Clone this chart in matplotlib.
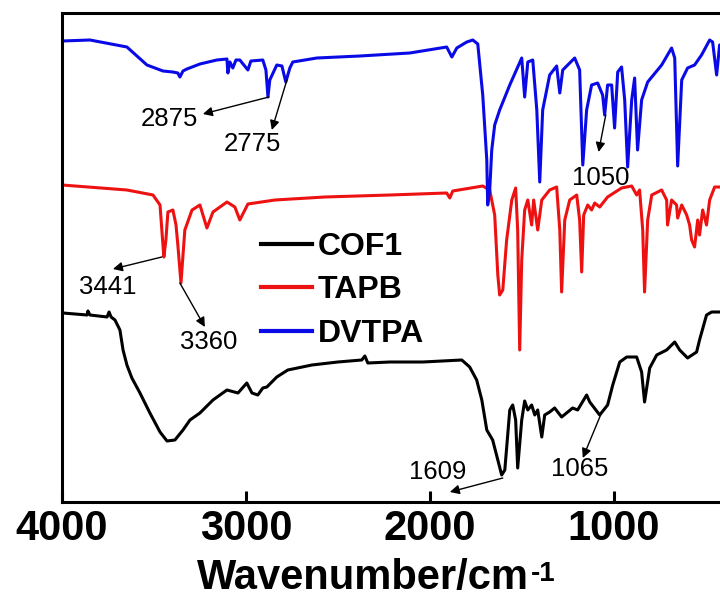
import numpy as np
import matplotlib
matplotlib.use("Agg")
import matplotlib.pyplot as plt

plt.rcParams['font.family'] = ['Liberation Sans', 'DejaVu Sans']

# FTIR spectra, wavenumber (cm-1) vs offset transmittance (a.u.)
dvtpa_w = [4000, 3848, 3647, 3538, 3451, 3397, 3370, 3359, 3342, 3321, 3250, 3158, 3103, 3098,
           3087, 3071, 3054, 3033, 2989, 2973, 2908, 2891, 2880, 2870, 2832, 2804, 2783, 2761,
           2745, 2614, 2380, 2109, 1908, 1880, 1853, 1799, 1766, 1739, 1712, 1690, 1685, 1674,
           1663, 1647, 1620, 1565, 1500, 1484, 1467, 1440, 1418, 1402, 1386, 1348, 1310, 1293,
           1277, 1212, 1185, 1168, 1147, 1120, 1087, 1060, 1049, 1033, 1011, 995, 978, 957,
           940, 924, 902, 886, 870, 848, 815, 739, 685, 668, 652, 630, 598, 560, 522, 478,
           462, 440, 424, 400]
dvtpa_t = [461, 462, 455, 437, 431, 430, 429, 425, 431, 433, 438, 442, 443, 429,
           440, 434, 442, 442, 432, 441, 442, 432, 405, 422, 437, 436, 420, 434,
           440, 444, 446, 449, 455, 445, 454, 460, 462, 458, 407, 342, 297, 312,
           352, 377, 392, 417, 444, 405, 440, 442, 392, 320, 392, 427, 436, 409,
           432, 444, 432, 337, 392, 417, 419, 407, 387, 417, 417, 374, 430, 435,
           402, 335, 402, 424, 352, 402, 420, 437, 454, 444, 336, 422, 434, 437, 447, 462,
           460, 427, 457, 457]

tapb_w = [4000, 3647, 3505, 3467, 3451, 3446, 3435, 3424, 3397, 3380, 3370, 3353, 3342, 3332,
          3293, 3250, 3212, 3179, 3103, 3060, 3033, 2989, 2842, 2571, 2217, 1908, 1891, 1875,
          1712, 1674, 1647, 1630, 1620, 1603, 1582, 1554, 1533, 1522, 1511, 1500, 1484, 1467,
          1446, 1435, 1413, 1391, 1348, 1310, 1293, 1283, 1266, 1239, 1201, 1185, 1174, 1163,
          1141, 1120, 1103, 1076, 1033, 957, 902, 875, 859, 842, 832, 815, 793, 739, 712, 707,
          685, 658, 652, 630, 603, 587, 576, 560, 543, 533, 516, 495, 478, 451, 424, 400]
tapb_t = [317, 312, 307, 297, 257, 245, 262, 290, 292, 277, 257, 219, 247, 272,
          292, 297, 274, 290, 300, 295, 282, 298, 302, 305, 307, 309, 304, 311,
          316, 312, 287, 227, 207, 212, 262, 302, 314, 272, 152, 242, 292, 302,
          277, 302, 272, 302, 312, 315, 272, 210, 282, 302, 307, 282, 230, 287,
          297, 292, 299, 295, 305, 314, 316, 307, 312, 272, 210, 282, 307, 312, 302, 277,
          302, 297, 284, 297, 287, 277, 262, 255, 282, 267, 292, 277, 302, 315, 315, 315]

cof1_w = [4000, 3995, 3864, 3859, 3848, 3755, 3744, 3733, 3712, 3685, 3668, 3647, 3620, 3576,
          3522, 3467, 3429, 3386, 3342, 3304, 3250, 3179, 3103, 3043, 2995, 2967, 2935, 2908,
          2886, 2832, 2772, 2641, 2500, 2370, 2353, 2337, 2217, 2038, 1826, 1783, 1745, 1717,
          1690, 1658, 1630, 1609, 1592, 1565, 1549, 1533, 1522, 1500, 1484, 1467, 1446, 1429,
          1413, 1391, 1375, 1348, 1321, 1283, 1223, 1196, 1147, 1130, 1076, 1033, 1005, 967,
          929, 875, 848, 832, 804, 766, 712, 668, 641, 598, 549, 533, 495, 467, 424, 400]
cof1_t = [189, 189, 187, 191, 187, 185, 190, 185, 182, 172, 152, 137, 124, 109,
          89, 70, 61, 62, 72, 82, 89, 102, 112, 109, 119, 109, 107, 114,
          115, 125, 132, 137, 140, 142, 146, 139, 140, 140, 142, 135, 122, 102,
          72, 62, 42, 27, 32, 92, 97, 82, 34, 82, 101, 92, 97, 87,
          92, 65, 87, 90, 94, 85, 94, 92, 107, 100, 87, 97, 117, 140,
          145, 145, 130, 100, 134, 147, 152, 160, 152, 144, 150, 162, 187, 190, 190, 190]

# peak label, arrow tail (on peak), arrow head, text centre
peak_notes = [
    ('2875', (2875, 405), (3234, 388), (3418, 383)),
    ('2775', (2777, 422), (2859, 372), (2967, 358)),
    ('3441', (3457, 245), (3723, 233), (3750, 215)),
    ('3360', (3359, 219), (3223, 175), (3201, 160)),
    ('1050', (1043, 387), (1082, 350), (1071, 324)),
    ('1609', (1603, 24), (1891, 10), (1957, 30)),
    ('1065', (1071, 87), (1168, 44), (1185, 33)),
]

fig = plt.figure(figsize=(7.2, 5.98), dpi=100)
ax = fig.add_axes([62/720, 96/598, 662/720, 489/598])

ax.plot(cof1_w, cof1_t, color='black', lw=2.2, label='COF1')
ax.plot(tapb_w, tapb_t, color='#ee1111', lw=2.2, label='TAPB')
ax.plot(dvtpa_w, dvtpa_t, color='#0a0ae6', lw=2.2, label='DVTPA')

for lab, tail, head, txt in peak_notes:
    ax.annotate('', xy=head, xytext=tail,
                arrowprops=dict(arrowstyle='-|>', color='black', lw=1, mutation_scale=14,
                                shrinkA=0, shrinkB=0))
    ax.text(txt[0], txt[1], lab, fontsize=18.5, ha='center', va='center')

ax.set_xlim(4000, 400)
ax.set_ylim(0, 489)
ax.set_xticks([4000, 3000, 2000, 1000])
ax.set_yticks([])
ax.tick_params(axis='x', direction='in', length=8, width=2.2, pad=5,
               labelsize=30)
for t in ax.get_xticklabels():
    t.set_fontweight('bold')
for s in ax.spines.values():
    s.set_linewidth(2.2)

ax.set_xlabel('Wavenumber/cm', fontsize=30, fontweight='bold', labelpad=0)
ax.xaxis.set_label_coords(0.455, -0.115)
ax.annotate('-1', xy=(1, 1), xycoords=ax.xaxis.label, xytext=(1, -2),
            textcoords='offset points', ha='left', va='top',
            fontsize=20, fontweight='bold')

leg = ax.legend(loc='upper left', bbox_to_anchor=(0.30, 0.552), frameon=False,
                prop={'size': 23, 'weight': 'bold'}, handlelength=1.6,
                handletextpad=0.2, labelspacing=0.42, borderpad=0, borderaxespad=0)
for h in leg.get_lines():
    h.set_linewidth(3)

fig.savefig('out.png', dpi=100)
